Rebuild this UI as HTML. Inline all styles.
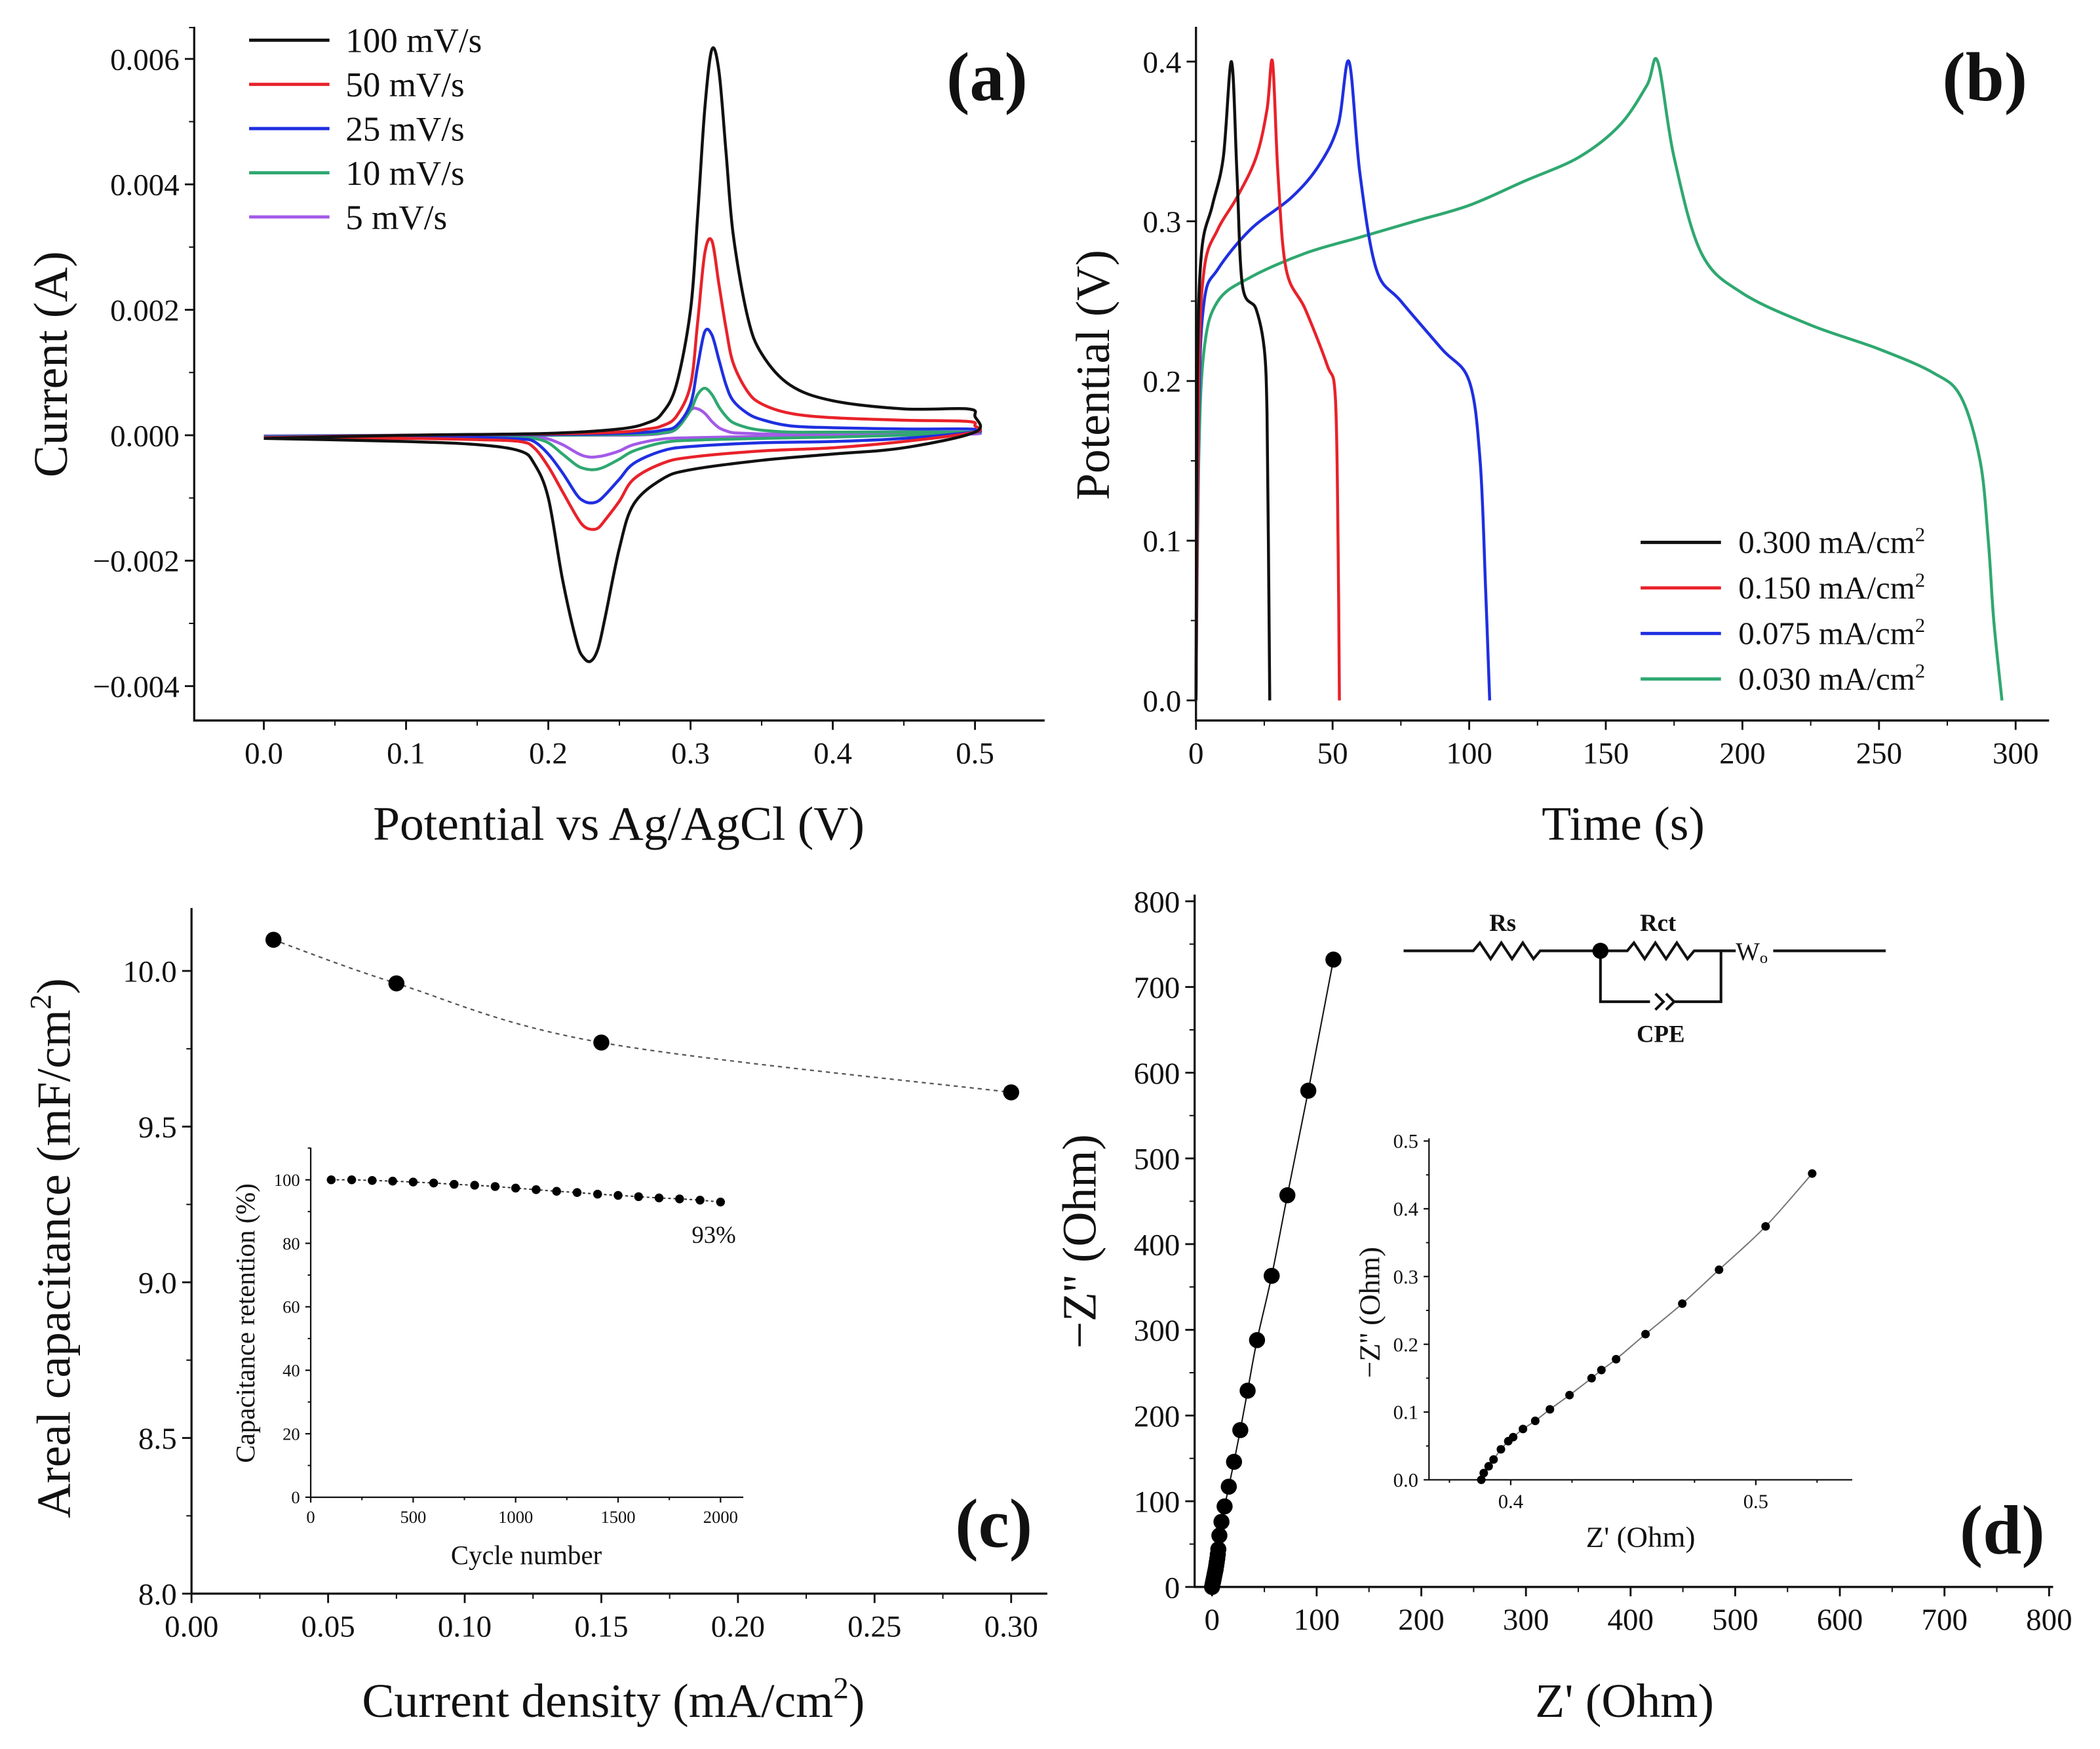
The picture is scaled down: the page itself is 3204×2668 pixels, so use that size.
<!DOCTYPE html>
<html><head><meta charset="utf-8">
<style>
html,body{margin:0;padding:0;background:#fff;}
svg{display:block;}
text{font-family:"Liberation Serif","DejaVu Serif",serif;fill:#111;}
</style></head>
<body>
<svg id="fig" width="3204" height="2668" viewBox="0 0 1568 1306" preserveAspectRatio="none" xmlns="http://www.w3.org/2000/svg">
<rect width="1568" height="1306" fill="#fff"/>
<g id="pa"></g>
<g id="pb"></g>
<g id="pc"></g>
<g id="pd"></g>
</svg>
<script>
// ---------- Panel (a) CV data (current in mA) ----------
const cvUpX = [0,0.1,0.2,0.25,0.27,0.28,0.29,0.3,0.305,0.31,0.315,0.32,0.325,0.33,0.34,0.35,0.37,0.4,0.45,0.495,0.5];
const cvDnX = [0.5,0.45,0.4,0.35,0.3,0.28,0.26,0.25,0.24,0.235,0.23,0.225,0.22,0.21,0.2,0.19,0.18,0.15,0.1,0];
const cv100Up = [-0.05,0,0.03,0.1,0.2,0.35,0.8,2.0,3.5,5.2,6.15,5.8,4.5,3.2,1.9,1.3,0.8,0.55,0.42,0.42,0.3];
const cv100Dn = [0.05,-0.2,-0.3,-0.4,-0.55,-0.7,-1.1,-1.8,-2.9,-3.4,-3.6,-3.55,-3.3,-2.3,-1.0,-0.45,-0.25,-0.15,-0.1,-0.05];
const cv50Up = [-0.04,0,0.02,0.05,0.1,0.15,0.3,0.8,1.8,2.9,3.1,2.4,1.7,1.15,0.7,0.5,0.35,0.28,0.24,0.22,0.15];
const cv50Dn = [0.05,-0.1,-0.2,-0.25,-0.35,-0.45,-0.7,-1.05,-1.35,-1.48,-1.5,-1.45,-1.3,-0.9,-0.5,-0.2,-0.1,-0.07,-0.05,-0.04];
const cv25Up = [-0.03,0,0.01,0.03,0.05,0.08,0.15,0.5,1.1,1.65,1.6,1.2,0.8,0.55,0.35,0.25,0.15,0.12,0.1,0.1,0.08];
const cv25Dn = [0.05,-0.05,-0.1,-0.12,-0.18,-0.25,-0.45,-0.7,-0.95,-1.05,-1.08,-1.05,-0.95,-0.6,-0.3,-0.1,-0.06,-0.04,-0.03,-0.03];
const cv10Up = [-0.02,0,0,0.01,0.02,0.04,0.1,0.4,0.65,0.75,0.65,0.45,0.3,0.2,0.12,0.08,0.05,0.05,0.05,0.05,0.05];
const cv10Dn = [0.05,0,-0.03,-0.05,-0.08,-0.12,-0.25,-0.38,-0.5,-0.54,-0.55,-0.53,-0.48,-0.3,-0.12,-0.05,-0.03,-0.02,-0.02,-0.02];
const cv5Up = [-0.01,0,0,0,0.01,0.03,0.1,0.4,0.42,0.35,0.22,0.12,0.07,0.04,0.03,0.02,0.02,0.02,0.02,0.02,0.02];
const cv5Dn = [0.03,0,-0.01,-0.02,-0.04,-0.06,-0.15,-0.25,-0.32,-0.34,-0.35,-0.33,-0.28,-0.15,-0.06,-0.02,-0.01,-0.01,-0.01,-0.01];
const cvLabels = ["100 mV/s","50 mV/s","25 mV/s","10 mV/s","5 mV/s"];
const cvColors = ["#111","#e8222a","#1f2fe0","#2fa870","#a35ae8"];
const cvXTicks = [0,0.1,0.2,0.3,0.4,0.5];
const cvYTicks = [-0.004,-0.002,0,0.002,0.004,0.006];

// ---------- Panel (b) GCD data ----------
const gcdT1 = [0,0.5,2,6,10,13,15,17,22,25,26,26.5,27];
const gcdV1 = [0,0.2,0.28,0.31,0.34,0.4,0.33,0.26,0.245,0.22,0.18,0.1,0];
const gcdT2 = [0,1,3,8,15,22,26,28,30,33,40,48,51,52,52.5];
const gcdV2 = [0,0.2,0.27,0.295,0.315,0.34,0.37,0.4,0.33,0.27,0.245,0.21,0.19,0.1,0];
const gcdT3 = [0,1,3,8,20,35,45,52,56,60,66,75,90,100,104,106,107.5];
const gcdV3 = [0,0.18,0.25,0.27,0.295,0.315,0.335,0.36,0.4,0.33,0.27,0.25,0.22,0.2,0.15,0.07,0];
const gcdT4 = [0,1,3,8,20,40,60,80,100,120,140,155,165,169,175,185,200,225,250,270,280,287,290,292,295];
const gcdV4 = [0,0.15,0.22,0.25,0.265,0.28,0.29,0.3,0.31,0.325,0.34,0.36,0.385,0.4,0.34,0.28,0.255,0.235,0.22,0.205,0.19,0.15,0.1,0.05,0];
const gcdLabels = ["0.300 mA/cm","0.150 mA/cm","0.075 mA/cm","0.030 mA/cm"];
const gcdColors = ["#111","#e8222a","#1f2fe0","#2fa870"];
const gcdXTicks = [0,50,100,150,200,250,300];
const gcdYTicks = [0,0.1,0.2,0.3,0.4];

// ---------- Panel (c) ----------
const capX = [0.03,0.075,0.15,0.3];
const capY = [10.1,9.96,9.77,9.61];
const capXTicks = [0,0.05,0.1,0.15,0.2,0.25,0.3];
const capYTicks = [8.0,8.5,9.0,9.5,10.0];
const retCycles = [100,200,300,400,500,600,700,800,900,1000,1100,1200,1300,1400,1500,1600,1700,1800,1900,2000];
const retVals = [100,100,99.8,99.6,99.3,99,98.6,98.3,97.9,97.4,96.9,96.4,96,95.5,95.1,94.7,94.3,94,93.6,93];
const retXTicks = [0,500,1000,1500,2000];
const retYTicks = [0,20,40,60,80,100];

// ---------- Panel (d) ----------
const zRe = [0,0.5,1,1.5,2,2.5,3,3.5,4,4.5,5,5.5,6,7,9,12,16,21,27,34,43,57,72,92,116];
const zIm = [0,3,6,9,12,15,18,21,25,29,33,38,44,60,76,94,117,146,183,229,288,363,457,579,732];
const zXTicks = [0,100,200,300,400,500,600,700,800];
const zYTicks = [0,100,200,300,400,500,600,700,800];
const inRe = [0.388,0.389,0.391,0.393,0.396,0.399,0.401,0.405,0.41,0.416,0.424,0.433,0.437,0.443,0.455,0.47,0.485,0.504,0.523];
const inIm = [0,0.01,0.02,0.03,0.045,0.057,0.063,0.075,0.087,0.104,0.125,0.15,0.162,0.178,0.215,0.26,0.31,0.374,0.452];
const inXTicks = [0.4,0.5];
const inYTicks = [0,0.1,0.2,0.3,0.4,0.5];

const NS = "http://www.w3.org/2000/svg";
function mk(parent, tag, attrs, txt){
  const e = document.createElementNS(NS, tag);
  for (const k in attrs) e.setAttribute(k, attrs[k]);
  if (txt !== undefined) e.textContent = txt;
  parent.appendChild(e);
  return e;
}
function lin(d0,d1,r0,r1){ return v => r0 + (v-d0)*(r1-r0)/(d1-d0); }
function smooth(pts){
  if (pts.length<2) return "";
  let d = "M"+pts[0][0].toFixed(2)+","+pts[0][1].toFixed(2);
  for (let i=0;i<pts.length-1;i++){
    const p0=pts[Math.max(0,i-1)], p1=pts[i], p2=pts[i+1], p3=pts[Math.min(pts.length-1,i+2)];
    const c1x=p1[0]+(p2[0]-p0[0])/6, c1y=p1[1]+(p2[1]-p0[1])/6;
    const c2x=p2[0]-(p3[0]-p1[0])/6, c2y=p2[1]-(p3[1]-p1[1])/6;
    d += " C"+c1x.toFixed(2)+","+c1y.toFixed(2)+" "+c2x.toFixed(2)+","+c2y.toFixed(2)+" "+p2[0].toFixed(2)+","+p2[1].toFixed(2);
  }
  return d;
}
function axes(g, o){
  const ax = mk(g,"path",{d:`M${o.x0},${o.yTop} L${o.x0},${o.y0} L${o.x1},${o.y0}`,fill:"none",stroke:"#111","stroke-width":o.sw||1.6});
  
  
  o.xticks.forEach(v=>{
    const x=o.sx(v);
    mk(g,"line",{x1:x,y1:o.y0,x2:x,y2:o.y0+o.tl,stroke:"#111","stroke-width":o.sw||1.4});
    const t = mk(g,"text",{x:x,y:o.y0+o.tl+o.fs+2,"font-size":o.fs,"text-anchor":"middle"},o.fmtX(v));
    
    
  });
  (o.xMinor||[]).forEach(v=>{const x=o.sx(v); if(x<o.x0||x>o.x1) return; mk(g,"line",{x1:x,y1:o.y0,x2:x,y2:o.y0+o.tl*0.55,stroke:"#111","stroke-width":1});});
  o.yticks.forEach(v=>{
    const y=o.sy(v);
    mk(g,"line",{x1:o.x0,y1:y,x2:o.x0-o.tl,y2:y,stroke:"#111","stroke-width":o.sw||1.4});
    const t = mk(g,"text",{x:o.x0-o.tl-4,y:y+o.fs*0.35,"font-size":o.fs,"text-anchor":"end"},o.fmtY(v));
    
    
  });
  (o.yMinor||[]).forEach(v=>{const y=o.sy(v); if(y<o.yTop||y>o.y0) return; mk(g,"line",{x1:o.x0,y1:y,x2:o.x0-o.tl*0.55,y2:y,stroke:"#111","stroke-width":1});});
}
function mids(arr){const r=[];for(let i=0;i<arr.length-1;i++)r.push((arr[i]+arr[i+1])/2);return r;}
function title(g,x,y,txt,fs,rot,name){
  const t = mk(g,"text",{x:x,y:y,"font-size":fs,"text-anchor":"middle",transform:rot?`rotate(-90 ${x} ${y})`:""});
  t.textContent = txt;
  
  
  return t;
}
function panelLabel(g,x,y,l,name){
  const t=mk(g,"text",{x:x,y:y,"font-size":52,"font-weight":"bold","text-anchor":"middle"},"("+l+")");
  
  
}

// ===== Panel A =====
(function(){
  const g=document.getElementById("pa");
  const sx=lin(0,0.5,197,728), sy=lin(0,0.006,325,44);
  axes(g,{pre:"cv",x0:145,x1:780,y0:538,yTop:20,sx,sy,xticks:cvXTicks,yticks:cvYTicks,
    fmtX:v=>v.toFixed(1),fmtY:v=>(v<0?"\u2212":"")+Math.abs(v).toFixed(3),fs:23,tl:7,
    xMinor:[-0.05,0.05,0.15,0.25,0.35,0.45,0.55],yMinor:mids(cvYTicks).concat([0.0065])});
  const ups=[cv100Up,cv50Up,cv25Up,cv10Up,cv5Up], dns=[cv100Dn,cv50Dn,cv25Dn,cv10Dn,cv5Dn];
  for(let s=4;s>=0;s--){
    const pts=cvUpX.map((x,i)=>[sx(x),sy(ups[s][i]/1000)]).concat(cvDnX.map((x,i)=>[sx(x),sy(dns[s][i]/1000)]));
    const p=mk(g,"path",{d:smooth(pts),fill:"none",stroke:cvColors[s],"stroke-width":2.2,"stroke-linejoin":"round"});
    
    
  }
  cvLabels.forEach((l,i)=>{
    const y=30+i*33;
    const ln=mk(g,"line",{x1:186,y1:y,x2:246,y2:y,stroke:cvColors[i],"stroke-width":2.4});
    
    
    const t=mk(g,"text",{x:258,y:y+9,"font-size":26},l);
    
    
  });
  title(g,462,627,"Potential vs Ag/AgCl (V)",36,false,"x-axis-title-a");
  title(g,50,272,"Current (A)",36,true,"y-axis-title-a");
  panelLabel(g,737,75,"a","panel-label-a");
})();

// ===== Panel B =====
(function(){
  const g=document.getElementById("pb");
  const sx=lin(0,300,893,1505), sy=lin(0,0.4,523,46);
  axes(g,{pre:"gcd",x0:893,x1:1530,y0:538,yTop:20,sx,sy,xticks:gcdXTicks,yticks:gcdYTicks,
    fmtX:v=>String(v),fmtY:v=>v.toFixed(1),fs:23,tl:7,xMinor:mids(gcdXTicks),yMinor:mids(gcdYTicks)});
  const Ts=[gcdT1,gcdT2,gcdT3,gcdT4], Vs=[gcdV1,gcdV2,gcdV3,gcdV4];
  for(let s=3;s>=0;s--){
    const pts=Ts[s].map((t,i)=>[sx(t),sy(Vs[s][i])]);
    const p=mk(g,"path",{d:smooth(pts),fill:"none",stroke:gcdColors[s],"stroke-width":2.2});
    
    
  }
  gcdLabels.forEach((l,i)=>{
    const y=405+i*34;
    const ln=mk(g,"line",{x1:1225,y1:y,x2:1285,y2:y,stroke:gcdColors[i],"stroke-width":2.4});
    
    
    const t=mk(g,"text",{x:1298,y:y+8,"font-size":24},l);
    mk(t,"tspan",{"font-size":15,dy:-9},"2");
    
    
  });
  title(g,1212,627,"Time (s)",36,false,"x-axis-title-b");
  title(g,828,280,"Potential (V)",36,true,"y-axis-title-b");
  panelLabel(g,1482,75,"b","panel-label-b");
})();

// ===== Panel C =====
(function(){
  const g=document.getElementById("pc");
  const sx=lin(0,0.3,143,755), sy=lin(8,10,1190,725);
  axes(g,{pre:"cap",x0:143,x1:782,y0:1190,yTop:678,sx,sy,xticks:capXTicks,yticks:capYTicks,
    fmtX:v=>v.toFixed(2),fmtY:v=>v.toFixed(1),fs:23,tl:7,xMinor:mids(capXTicks),yMinor:mids(capYTicks)});
  const pts=capX.map((x,i)=>[sx(x),sy(capY[i])]);
  mk(g,"path",{d:smooth(pts),fill:"none",stroke:"#555","stroke-width":1.1,"stroke-dasharray":"3,3"});
  pts.forEach((p,i)=>{const c=mk(g,"circle",{cx:p[0],cy:p[1],r:6,fill:"#000"});
    
    });
  const ix=lin(0,2000,232,538), iy=lin(0,100,1118,881);
  axes(g,{pre:"ret",x0:232,x1:555,y0:1118,yTop:857,sx:ix,sy:iy,xticks:retXTicks,yticks:retYTicks,
    fmtX:v=>String(v),fmtY:v=>String(v),fs:13,tl:4,sw:1.1,xMinor:mids(retXTicks),yMinor:mids(retYTicks).concat([110])});
  const rp=retCycles.map((c,i)=>[ix(c),iy(retVals[i])]);
  mk(g,"path",{d:smooth(rp),fill:"none",stroke:"#333","stroke-width":1,"stroke-dasharray":"2,2"});
  rp.forEach((p,i)=>{const c=mk(g,"circle",{cx:p[0],cy:p[1],r:3.3,fill:"#000"});
    
    });
  const pc=mk(g,"text",{x:533,y:928,"font-size":18,"text-anchor":"middle"},"93%");
  
  
  title(g,393,1168,"Cycle number",20,false,"inset-x-axis-title-c");
  title(g,190,988,"Capacitance retention (%)",20,true,"inset-y-axis-title-c");
  const t=title(g,458,1282,"Current density (mA/cm",36,false,"x-axis-title-c");
  mk(t,"tspan",{"font-size":23,dy:-14},"2");
  mk(t,"tspan",{dy:14},")");
  const t2=title(g,52,932,"Areal capacitance (mF/cm",36,true,"y-axis-title-c");
  mk(t2,"tspan",{"font-size":23,dy:-14},"2");
  mk(t2,"tspan",{dy:14},")");
  panelLabel(g,742,1155,"c","panel-label-c");
})();

// ===== Panel D =====
(function(){
  const g=document.getElementById("pd");
  const sx=lin(0,800,905,1530), sy=lin(0,800,1185,673);
  axes(g,{pre:"nyq",x0:892,x1:1533,y0:1185,yTop:668,sx,sy,xticks:zXTicks,yticks:zYTicks,
    fmtX:v=>String(v),fmtY:v=>String(v),fs:23,tl:7,xMinor:mids(zXTicks),yMinor:mids(zYTicks)});
  const pts=zRe.map((x,i)=>[sx(x),sy(zIm[i])]);
  mk(g,"path",{d:smooth(pts),fill:"none",stroke:"#111","stroke-width":1});
  pts.forEach((p,i)=>{const c=mk(g,"circle",{cx:p[0],cy:p[1],r:6,fill:"#000"});
    
    });
  const ix=lin(0.4,0.5,1128,1311), iy=lin(0,0.5,1105,852);
  axes(g,{pre:"nyq-inset",x0:1067,x1:1383,y0:1105,yTop:850,sx:ix,sy:iy,xticks:inXTicks,yticks:inYTicks,
    fmtX:v=>v.toFixed(1),fmtY:v=>v.toFixed(1),fs:15,tl:4,sw:1.1,xMinor:[0.375,0.425,0.45,0.475,0.525],yMinor:mids(inYTicks)});
  const ip=inRe.map((x,i)=>[ix(x),iy(inIm[i])]);
  mk(g,"path",{d:smooth(ip),fill:"none",stroke:"#777","stroke-width":1});
  ip.forEach((p,i)=>{const c=mk(g,"circle",{cx:p[0],cy:p[1],r:3.2,fill:"#000"});
    
    });
  title(g,1225,1155,"Z' (Ohm)",22,false,"inset-x-axis-title-d");
  title(g,1030,980,"\u2212Z'' (Ohm)",22,true,"inset-y-axis-title-d");
  const c=mk(g,"g",{fill:"none",stroke:"#111","stroke-width":2});
  
  
  mk(c,"path",{d:"M1048,710 L1100,710 l5,-6 l8,12 l8,-12 l8,12 l8,-12 l8,12 l5,-6 L1215,710 l5,-6 l8,12 l8,-12 l8,12 l8,-12 l8,12 l5,-6 L1296,710 M1324,710 L1408,710"});
  mk(c,"path",{d:"M1195,710 L1195,748 L1232,748 M1236,742 l6,6 l-6,6 M1244,742 l6,6 l-6,6 M1250,748 L1285,748 L1285,710"});
  mk(g,"circle",{cx:1195,cy:710,r:6,fill:"#000"});
  const w=mk(g,"text",{x:1296,y:717,"font-size":19},"W");
  mk(w,"tspan",{"font-size":12,dy:2},"o");
  mk(g,"text",{x:1122,y:695,"font-size":18,"font-weight":"bold","text-anchor":"middle"},"Rs");
  mk(g,"text",{x:1238,y:695,"font-size":18,"font-weight":"bold","text-anchor":"middle"},"Rct");
  mk(g,"text",{x:1240,y:778,"font-size":18,"font-weight":"bold","text-anchor":"middle"},"CPE");
  title(g,1213,1282,"Z' (Ohm)",36,false,"x-axis-title-d");
  title(g,818,927,"\u2212Z'' (Ohm)",36,true,"y-axis-title-d");
  panelLabel(g,1495,1160,"d","panel-label-d");
})();
</script>
</body></html>
